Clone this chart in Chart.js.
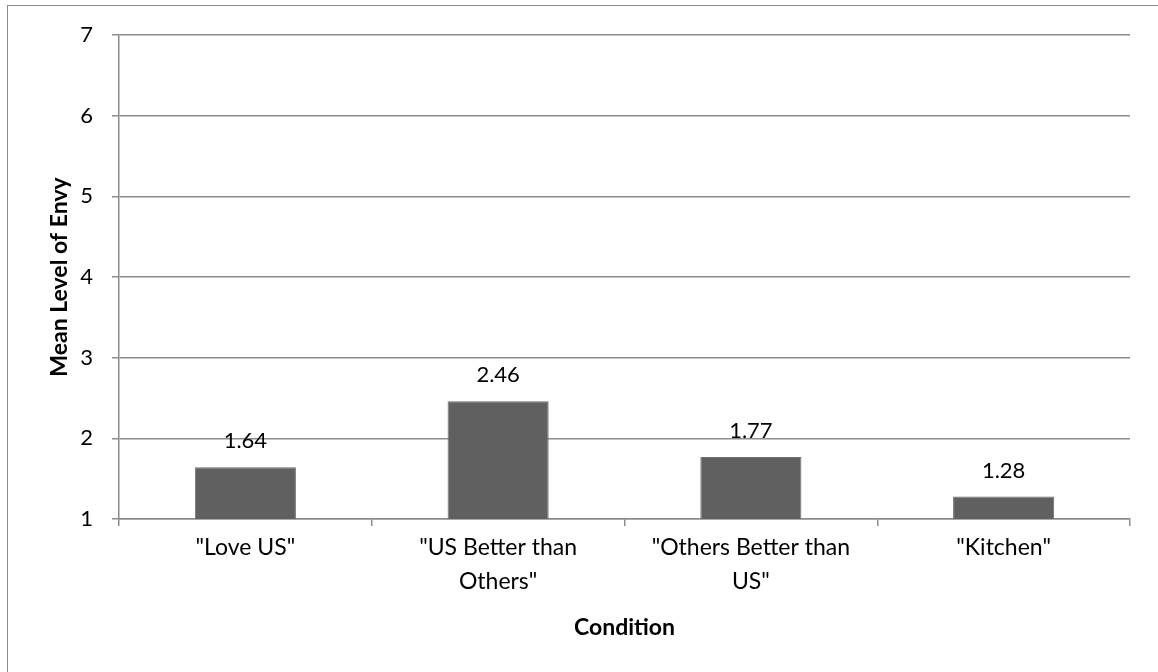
<!DOCTYPE html>
<html>
<head>
<meta charset="utf-8">
<script src="https://cdn.jsdelivr.net/npm/chart.js@4.4.0/dist/chart.umd.min.js"></script>
<style>
  html, body { margin: 0; padding: 0; background: #fff; overflow: hidden; }
  #frame { position: absolute; left: 7px; top: 5px; width: 1300px; height: 800px;
           border-top: 1px solid #8a8a8a; border-left: 1.5px solid #8a8a8a; }
  #wrap { position: absolute; left: 0; top: 0; width: 1158px; height: 672px; }
</style>
</head>
<body>
<div id="frame"></div>
<div id="wrap"><canvas id="chart"></canvas></div>
<script>
// Data
const conditions = [['"Love US"'], ['"US Better than', 'Others"'], ['"Others Better than', 'US"'], ['"Kitchen"']];
const envyMeans = [1.64, 2.46, 1.77, 1.28];
const yMin = 1;
const yMax = 7;
const yStep = 1;

const FONT = 'Lato, Calibri, "Open Sans", sans-serif';
const GRID = '#8c8c8c';

// Value labels above bars
const valueLabels = {
  id: 'valueLabels',
  afterDatasetsDraw(chart) {
    const ctx = chart.ctx;
    const meta = chart.getDatasetMeta(0);
    ctx.save();
    ctx.font = '22px ' + FONT;
    ctx.fillStyle = '#000';
    ctx.textAlign = 'center';
    ctx.textBaseline = 'middle';
    meta.data.forEach((bar, i) => {
      ctx.fillText(envyMeans[i].toFixed(2), bar.x, bar.y - 26);
    });
    ctx.restore();
  }
};

new Chart(document.getElementById('chart'), {
  type: 'bar',
  data: {
    labels: conditions,
    datasets: [{
      data: envyMeans,
      backgroundColor: '#606060',
      borderColor: '#6e6e6e',
      borderWidth: 1,
      categoryPercentage: 0.4,
      barPercentage: 1
    }]
  },
  options: {
    responsive: true,
    maintainAspectRatio: false,
    animation: false,
    layout: { padding: { top: 35, right: 28, bottom: 0, left: 0 } },
    plugins: {
      legend: { display: false },
      tooltip: { enabled: false }
    },
    scales: {
      x: {
        grid: { offset: true, drawOnChartArea: false, drawTicks: true, tickLength: 7, color: GRID, lineWidth: 1.5 },
        border: { color: GRID, width: 1.5 },
        ticks: { color: '#000', padding: 5, font: { family: FONT, size: 23, lineHeight: 1.48 }, maxRotation: 0 },
        title: { display: true, text: 'Condition', color: '#000',
                 font: { family: FONT, size: 23, weight: 'bold' }, padding: { top: 0, bottom: 31 } },
        afterFit(scale) { scale.height = 153; }
      },
      y: {
        min: yMin,
        max: yMax,
        grid: { color: GRID, lineWidth: 1.5, tickLength: 7 },
        border: { color: GRID, width: 1.5 },
        ticks: { stepSize: yStep, color: '#000', padding: 19, font: { family: FONT, size: 22 } },
        title: { display: true, text: 'Mean Level of Envy', color: '#000',
                 font: { family: FONT, size: 23, weight: 'bold' }, padding: { top: 46, bottom: 0 } },
        afterFit(scale) { scale.width = 119; }
      }
    }
  },
  plugins: [valueLabels]
});
</script>
</body>
</html>
